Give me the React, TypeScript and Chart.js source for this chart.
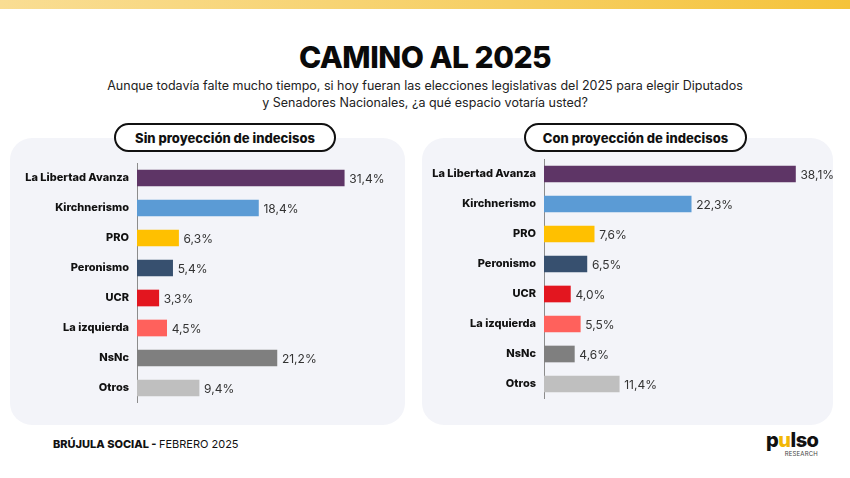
import React, { useEffect, useRef } from "react";
import { Chart, registerables } from "chart.js";

Chart.register(...registerables);

const categories = [
  "La Libertad Avanza",
  "Kirchnerismo",
  "PRO",
  "Peronismo",
  "UCR",
  "La izquierda",
  "NsNc",
  "Otros",
];
const sinProyeccion = [31.4, 18.4, 6.3, 5.4, 3.3, 4.5, 21.2, 9.4];
const conProyeccion = [38.1, 22.3, 7.6, 6.5, 4.0, 5.5, 4.6, 11.4];
const barColors = [
  "#5e3566",
  "#5b9bd5",
  "#ffc000",
  "#37506f",
  "#e3161f",
  "#ff615c",
  "#7f7f7f",
  "#bfbfbf",
];
const panelTitles = ["Sin proyección de indecisos", "Con proyección de indecisos"];
const axisMax = 40;

const FONT = "Inter, 'Open Sans', sans-serif";

const valueLabels = {
  id: "valueLabels",
  afterDatasetsDraw(chart: any) {
    const ctx = chart.ctx;
    ctx.save();
    ctx.font = `400 12px ${FONT}`;
    ctx.fillStyle = "#333333";
    ctx.textAlign = "left";
    ctx.textBaseline = "middle";
    chart.data.datasets.forEach((ds: any, di: number) => {
      const meta = chart.getDatasetMeta(di);
      meta.data.forEach((bar: any, i: number) => {
        const v = ds.data[i] as number;
        const txt = v.toFixed(1).replace(".", ",") + "%";
        ctx.fillText(txt, bar.x + 5, bar.y + 1);
      });
    });
    ctx.restore();
  },
};

function BarPanel({ values, left, top }: { values: number[]; left: number; top: number }) {
  const ref = useRef<HTMLCanvasElement | null>(null);
  useEffect(() => {
    if (!ref.current) return;
    const chart = new Chart(ref.current, {
      type: "bar",
      data: {
        labels: categories,
        datasets: [
          {
            data: values,
            backgroundColor: barColors,
            barThickness: 16,
          },
        ],
      },
      options: {
        indexAxis: "y",
        animation: false,
        responsive: true,
        maintainAspectRatio: false,
        layout: { padding: { left: 0, top: 0, bottom: 0, right: 45 } },
        plugins: {
          legend: { display: false },
          tooltip: { enabled: false },
        },
        scales: {
          x: {
            display: false,
            min: 0,
            max: axisMax,
          },
          y: {
            afterFit: (scale: any) => {
              scale.width = 127;
              scale.paddingTop = 0;
              scale.paddingBottom = 0;
            },
            grid: { display: false, drawTicks: false },
            border: { display: true, color: "#8c8c8c", width: 1 },
            ticks: {
              color: "#111111",
              padding: 8,
              font: { family: FONT, size: 11, weight: "800" },
            },
          },
        },
      },
      plugins: [valueLabels],
    } as any);
    return () => chart.destroy();
  }, [values]);
  return (
    <div style={{ position: "absolute", left, top, width: 436, height: 240 }}>
      <canvas ref={ref} />
    </div>
  );
}

function Pill({ text, left, width }: { text: string; left: number; width: number }) {
  return (
    <div
      style={{
        position: "absolute",
        left,
        top: 123,
        width,
        height: 29,
        boxSizing: "border-box",
        border: "2px solid #111",
        borderRadius: 15,
        background: "#ffffff",
        display: "flex",
        alignItems: "center",
        justifyContent: "center",
        fontWeight: 800,
        fontSize: 13,
        color: "#111",
        zIndex: 2,
      }}
    >
      {text}
    </div>
  );
}

export default function App() {
  return (
    <div
      style={{
        position: "absolute",
        left: 0,
        top: 0,
        width: 850,
        height: 478,
        background: "#ffffff",
        overflow: "hidden",
        fontFamily: FONT,
      }}
    >
      <div
        style={{
          position: "absolute",
          left: 0,
          top: 0,
          width: 850,
          height: 9,
          background: "linear-gradient(90deg, #f9dd93 0%, #f6cf63 60%, #f5c33a 100%)",
        }}
      />
      <div
        style={{
          position: "absolute",
          left: 0,
          top: 39,
          width: 850,
          textAlign: "center",
          fontSize: 30,
          fontWeight: 800,
          color: "#0a0a0a",
          letterSpacing: -0.5,
        }}
      >
        CAMINO AL 2025
      </div>
      <div
        style={{
          position: "absolute",
          left: 0,
          top: 77,
          width: 850,
          textAlign: "center",
          fontSize: 12.5,
          lineHeight: "17px",
          color: "#222",
        }}
      >
        Aunque todavía falte mucho tiempo, si hoy fueran las elecciones legislativas del 2025 para elegir Diputados
        <br />
        y Senadores Nacionales, ¿a qué espacio votaría usted?
      </div>

      <div
        style={{
          position: "absolute",
          left: 10,
          top: 138,
          width: 395,
          height: 287,
          borderRadius: 22,
          background: "#f3f4f9",
        }}
      />
      <div
        style={{
          position: "absolute",
          left: 422,
          top: 138,
          width: 411,
          height: 287,
          borderRadius: 22,
          background: "#f3f4f9",
        }}
      />
      <Pill text={panelTitles[0]} left={114} width={222} />
      <Pill text={panelTitles[1]} left={524} width={223} />

      <BarPanel values={sinProyeccion} left={10} top={163} />
      <BarPanel values={conProyeccion} left={417} top={159} />

      <div
        style={{
          position: "absolute",
          left: 53,
          top: 437,
          fontSize: 11,
          color: "#111",
        }}
      >
        <span style={{ fontWeight: 800 }}>BRÚJULA SOCIAL - </span>
        <span>FEBRERO 2025</span>
      </div>
      <div
        style={{
          position: "absolute",
          left: 766,
          top: 430,
          width: 52,
          textAlign: "right",
          color: "#111",
        }}
      >
        <div style={{ fontSize: 20, fontWeight: 800, lineHeight: "20px", letterSpacing: -0.5 }}>
          p<span style={{ color: "#f2b705" }}>u</span>lso
        </div>
        <div style={{ fontSize: 6, lineHeight: "7px", color: "#444", letterSpacing: 0.2 }}>RESEARCH</div>
      </div>
    </div>
  );
}
